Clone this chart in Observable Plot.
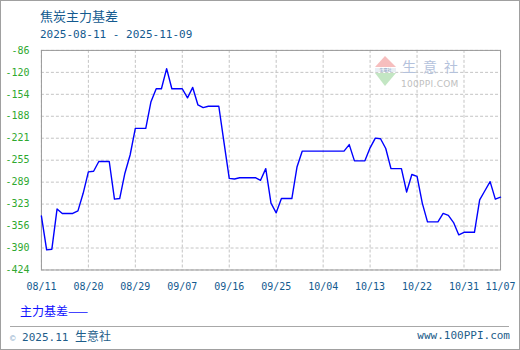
<!DOCTYPE html>
<html>
<head>
<meta charset="utf-8">
<script src="https://cdn.jsdelivr.net/npm/d3@7"></script>
<script src="https://cdn.jsdelivr.net/npm/@observablehq/plot@0.6"></script>
<style>
  html, body { margin: 0; padding: 0; background: #fff; }
  #box { position: relative; width: 520px; height: 350px; box-sizing: border-box; border: 1px solid #a0a0a0; overflow: hidden; background: #fff; }
  .abs { position: absolute; white-space: nowrap; }
  #title { left: 39px; top: 6px; font: 13px/18px "Noto Sans CJK SC", sans-serif; color: #135a8f; }
  #sub { left: 39px; top: 27px; font: 11px/14px "DejaVu Sans Mono", monospace; color: #135a8f; }
  #legend { left: 19px; top: 302px; font: 12px/16px "Noto Sans CJK SC", sans-serif; color: #1010ff; }
  #sep { left: 9px; top: 325px; width: 499px; height: 1px; background: #a8a8a8; }
  #foot { left: 9px; top: 327px; font: 11px/16px "DejaVu Sans Mono", monospace; color: #1d5d8a; }
  #foot .c { color: #8fb0cc; font-size: 9px; }
  #foot .cn { font-family: "Noto Sans CJK SC", sans-serif; font-size: 12px; }
  #url { right: 9px; top: 327px; font: 11px/16px "DejaVu Sans Mono", monospace; color: #1d5d8a; }
  #chart { position: absolute; left: -1px; top: -1px; }
</style>
</head>
<body>
<div id="box">
  <div id="chart"></div>
  <svg class="abs" style="left:370px;top:53px" width="100" height="36">
    <polygon points="14,2 4,13 25,13" fill="#f4b3b3" opacity="0.85"/>
    <rect x="4" y="14" width="21" height="4" fill="#e8eef4"/>
    <text x="14.5" y="17.5" font-size="4" text-anchor="middle" fill="#8aa0c0" font-family="Noto Sans CJK SC">生意社</text>
    <polygon points="4,19 25,19 14,32" fill="#b9e2b9" opacity="0.85"/>
    <text x="31" y="18" font-size="14" fill="#b4c2dc" font-family="Noto Sans CJK SC" letter-spacing="7">生意社</text>
    <text x="30" y="33" font-size="9" fill="#c0c0c0" font-family="DejaVu Sans" letter-spacing="0.3">100PPI.COM</text>
  </svg>
  <div id="title" class="abs">焦炭主力基差</div>
  <div id="sub" class="abs">2025-08-11 - 2025-11-09</div>
  <div id="legend" class="abs">主力基差——</div>
  <div id="sep" class="abs"></div>
  <div id="foot" class="abs"><span class="c">©</span> 2025.11 <span class="cn">生意社</span></div>
  <div id="url" class="abs">www.100PPI.com</div>
</div>
<script>
// Daily basis values, 2025-08-11 .. 2025-11-07 (weekends/holidays carry previous value)
const startDate = "2025-08-11";
const endDate = "2025-11-07";
const values = [
  -341, -393, -392, -330, -337, -337, -337, -333, -306, -273,
  -272, -257, -257, -257, -315, -314, -275, -247, -206, -206,
  -206, -165, -145, -145, -114, -145, -145, -145, -159, -143,
  -170, -174, -172, -172, -172, -228, -283, -284, -282, -282,
  -282, -282, -286, -268, -321, -336, -314, -314, -314, -265,
  -241, -241, -241, -241, -241, -241, -241, -241, -241, -231,
  -256, -256, -256, -236, -221, -222, -237, -268, -268, -268,
  -304, -277, -280, -321, -350, -350, -350, -337, -340, -351,
  -370, -366, -366, -366, -316, -302, -288, -315, -312
];
const xTickLabels = ["08/11","08/20","08/29","09/07","09/16","09/25","10/04","10/13","10/22","10/31","11/07"];
const yTickLabels = ["-424","-390","-356","-323","-289","-255","-221","-188","-154","-120","-86"];
const yMin = -424, yMax = -86;

const parse = d3.utcParse("%Y-%m-%d");
const t0 = parse(startDate), t1 = parse(endDate);
const dates = d3.utcDay.range(t0, d3.utcDay.offset(t1, 1));
const data = values.map((v, i) => ({date: dates[i], value: v}));

const fmt = d3.utcFormat("%m/%d");
const xTicks = dates.filter(d => xTickLabels.includes(fmt(d)));
const yStep = (yMax - yMin) / (yTickLabels.length - 1);
const yTicks = yTickLabels.map((_, i) => yMin + i * yStep);
const yLabelOf = d => yTickLabels[yTicks.indexOf(d)];

const chart = Plot.plot({
  width: 520,
  height: 300,
  marginTop: 50,
  marginBottom: 30,
  marginLeft: 41,
  marginRight: 19,
  style: {background: "transparent", fontFamily: "DejaVu Sans Mono, monospace", fontSize: "10px"},
  x: {type: "utc", domain: [t0, t1]},
  y: {domain: [yMin, yMax]},
  marks: [
    Plot.gridY(yTicks, {stroke: "#c4c4c4", strokeOpacity: 1, strokeDasharray: "3,2"}),
    Plot.gridX(xTicks, {stroke: "#c4c4c4", strokeOpacity: 1, strokeDasharray: "3,2"}),
    Plot.frame({stroke: "#9a9a9a"}),
    Plot.axisY(yTicks, {tickSize: 0, tickPadding: 12, tickFormat: yLabelOf, fill: "#2fa82f", label: null}),
    Plot.axisX(xTicks, {tickSize: 0, tickPadding: 13, tickFormat: fmt, fill: "#135a8f", label: null}),
    Plot.lineY(data, {x: "date", y: "value", stroke: "#0000ff", strokeWidth: 1.4})
  ]
});
document.getElementById("chart").appendChild(chart);
</script>
</body>
</html>
